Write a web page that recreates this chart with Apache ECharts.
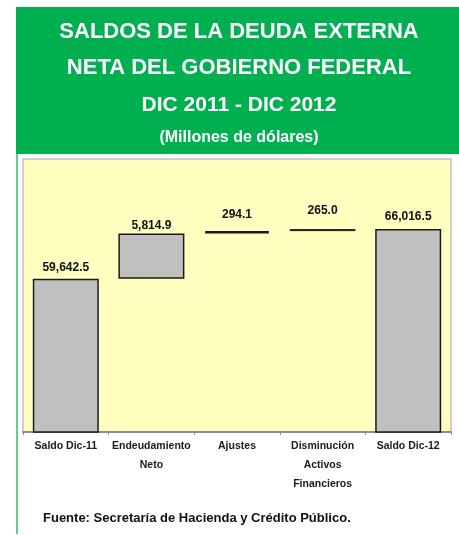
<!DOCTYPE html>
<html>
<head>
<meta charset="utf-8">
<script src="https://cdn.jsdelivr.net/npm/echarts@6/dist/echarts.min.js"></script>
<style>
  html, body { margin: 0; padding: 0; background: #fff; }
  #chart { width: 459px; height: 535px; }
</style>
</head>
<body>
<div id="chart"></div>
<script>
  // datos (millones de dolares)
  var categories = ['Saldo Dic-11', 'Endeudamiento\nNeto', 'Ajustes', 'Disminución\nActivos\nFinancieros', 'Saldo Dic-12']
  var values = [59642.5, 5814.9, 294.1, 265.0, 66016.5]
  // 1 = barra de saldo (desde el eje), 0 = barra flotante
  var isTotal = [1, 0, 0, 0, 1]
  var titleLines = ['SALDOS DE LA DEUDA EXTERNA', 'NETA DEL GOBIERNO FEDERAL', 'DIC 2011 - DIC 2012']
  var subtitle = '(Millones de dólares)'
  var source = 'Fuente: Secretaría de Hacienda y Crédito Público.'

  // distancia de cada etiqueta sobre su barra
  var labelGap = [5, 2, 10, 12, 6]
  var borderW = [1.5, 1.5, 2.5, 1, 1.5]

  // base invisible de la cascada
  var bases = []
  var running = 0
  for (var i = 0; i < values.length; i++) {
    if (isTotal[i]) {
      bases.push(0)
      running = values[i]
    } else {
      bases.push(running)
      running += values[i]
    }
  }

  var font = 'Liberation Sans, Arial, sans-serif'

  var titleGraphics = [
    { type: 'rect', shape: { x: 16, y: 7, width: 443, height: 147 }, style: { fill: '#00b050' } },
    { type: 'rect', shape: { x: 16, y: 154, width: 2, height: 380 }, style: { fill: '#5fcf8e' } }
  ]
  var titleY = [32, 68, 105]
  var titleSize = [22, 22, 21]
  titleLines.forEach(function (t, k) {
    titleGraphics.push({
      type: 'text', x: 239, y: titleY[k],
      style: { text: t, fill: '#fff', font: 'bold ' + titleSize[k] + 'px ' + font, textAlign: 'center', textVerticalAlign: 'middle' }
    })
  })
  titleGraphics.push({
    type: 'text', x: 239, y: 138,
    style: { text: subtitle, fill: '#fff', font: 'bold 16px ' + font, textAlign: 'center', textVerticalAlign: 'middle' }
  })
  titleGraphics.push({
    type: 'text', x: 43, y: 518,
    style: { text: source, fill: '#111', font: 'bold 13px ' + font, textAlign: 'left', textVerticalAlign: 'middle' }
  })

  var chart = echarts.init(document.getElementById('chart'))
  chart.setOption({
    animation: false,
    graphic: titleGraphics,
    grid: {
      left: 23, right: 8, top: 159, bottom: 103,
      show: true,
      backgroundColor: '#ffffc0',
      borderColor: '#cfcfcf',
      borderWidth: 2
    },
    xAxis: {
      type: 'category',
      data: categories,
      axisLine: { lineStyle: { color: '#8c8c8c', width: 2 } },
      axisTick: { show: true, length: 3, lineStyle: { color: '#8c8c8c' } },
      axisLabel: {
        interval: 0,
        margin: 5,
        color: '#1a1a1a',
        fontFamily: font,
        fontWeight: 'bold',
        fontSize: 10.5,
        lineHeight: 19
      }
    },
    yAxis: {
      type: 'value',
      min: 40000,
      max: 75000,
      show: false,
      splitLine: { show: false }
    },
    series: [
      {
        name: 'base',
        type: 'bar',
        stack: 'cascada',
        barWidth: 66,
        silent: true,
        itemStyle: { color: 'transparent' },
        data: bases
      },
      {
        name: 'valor',
        type: 'bar',
        stack: 'cascada',
        barWidth: 66,
        itemStyle: { color: '#c0c0c0', borderColor: '#1a1a1a', borderWidth: 1.5 },
        label: {
          show: true,
          position: 'top',
          color: '#111',
          fontFamily: font,
          fontWeight: 'bold',
          fontSize: 12,
          formatter: function (p) {
            return p.value.toLocaleString('en-US', { minimumFractionDigits: 1, maximumFractionDigits: 1 })
          }
        },
        data: values.map(function (v, k) {
          return { value: v, label: { distance: labelGap[k] }, itemStyle: { borderWidth: borderW[k] } }
        })
      }
    ]
  })
</script>
</body>
</html>
